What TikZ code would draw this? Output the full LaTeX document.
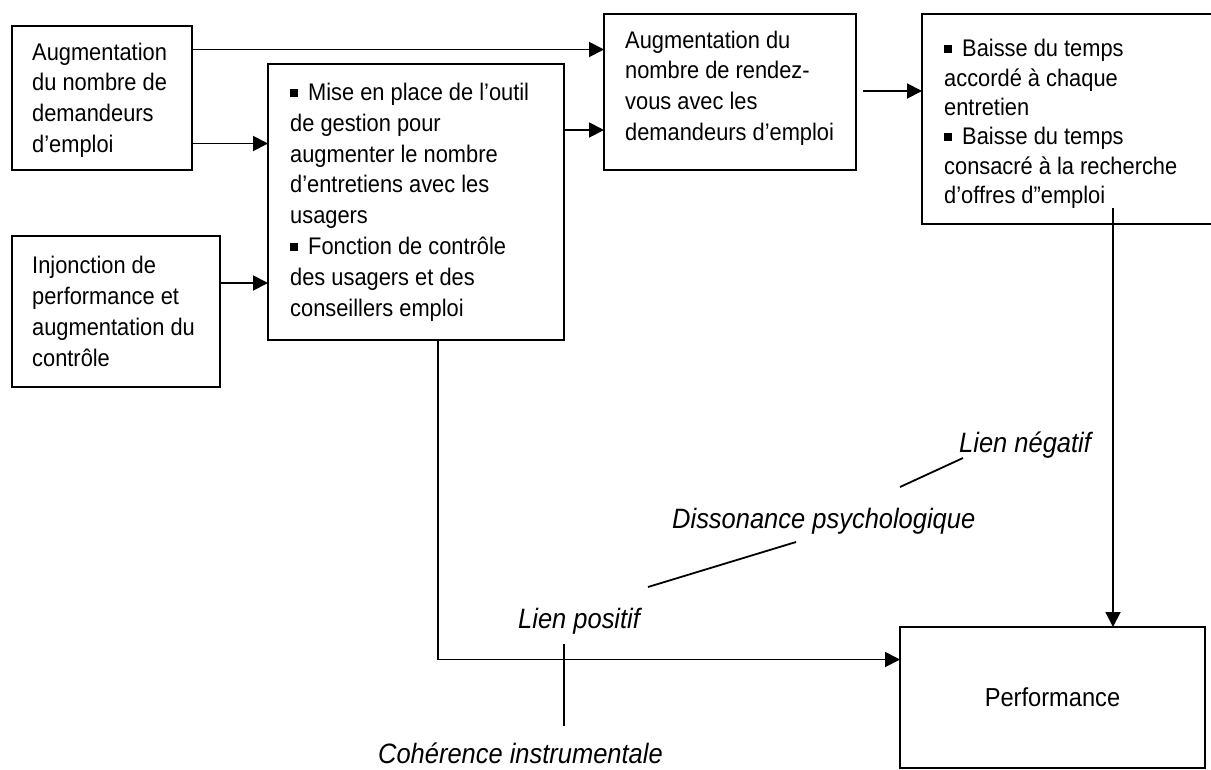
\documentclass[tikz,border=0pt]{standalone}
\usepackage{fontspec}
\setmainfont{Liberation Sans}[FakeStretch=0.91]
\usetikzlibrary{arrows.meta}

% square bullet used inside the boxes
\newcommand{\sqbul}{\rule[3.5pt]{8pt}{8pt}\hspace{10pt}}

\begin{document}
\begin{tikzpicture}[x=1pt,y=-1pt,
  box/.style={draw, line width=1.9pt, rectangle, inner sep=0pt, outer sep=0pt, anchor=north west},
  txt/.style={inner sep=0pt, align=left, anchor=west, font=\fontsize{24}{30.8}\selectfont},
  lab/.style={inner sep=0pt, font=\fontsize{28}{34}\selectfont\itshape},
  arr/.style={line width=1.9pt, -{Triangle[length=15pt,width=15pt]}},
  tick/.style={line width=1.8pt}]

\useasboundingbox (0,0) rectangle (1211,769);

% boxes
\node[box, minimum width=180pt, minimum height=144pt] (A1) at (12,26) {};
\node[txt, yshift=-2pt] (A1t) at ([xshift=20pt]A1.west)
  {Augmentation\\du nombre de\\demandeurs\\d’emploi};

\node[box, minimum width=208pt, minimum height=151pt] (A2) at (12,236) {};
\node[txt] (A2t) at ([xshift=20pt]A2.west)
  {Injonction de\\performance et\\augmentation du\\contrôle};

\node[box, minimum width=296pt, minimum height=276pt] (M) at (268,64) {};
\node[txt] (Mt) at ([xshift=22pt]M.west)
  {\sqbul Mise en place de l’outil\\de gestion pour\\augmenter le nombre\\d’entretiens avec les\\usagers\\\sqbul Fonction de contrôle\\des usagers et des\\conseillers emploi};

\node[box, minimum width=252pt, minimum height=156pt] (R) at (604,14) {};
\node[txt, yshift=4pt] (Rt) at ([xshift=21pt]R.west)
  {Augmentation du\\nombre de rendez-\\vous avec les\\demandeurs d’emploi};

\node[box, minimum width=292pt, minimum height=210pt] (B) at (922,14) {};
\node[txt, yshift=-5pt, font=\fontsize{24}{29.4}\selectfont] (Bt) at ([xshift=22pt]B.west)
  {\sqbul Baisse du temps\\accordé à chaque\\entretien\\\sqbul Baisse du temps\\consacré à la recherche\\d'offres d''emploi};

\node[box, minimum width=305pt, minimum height=141pt, font=\fontsize{26}{30}\selectfont] (P) at (900,627) {Performance};

% rows and columns of the connectors
\coordinate (rowA) at (0,49.5);
\coordinate (rowB) at (0,143.5);
\coordinate (rowC) at (0,283);
\coordinate (rowD) at (0,130);
\coordinate (rowE) at (0,91);
\coordinate (rowP) at (0,659.5);
\coordinate (colM) at (438,0);
\coordinate (bstart) at (1113,208);

% connectors
\draw[arr] (A1.east |- rowA) -- (R.west |- rowA);
\draw[arr] (A1.east |- rowB) -- (M.west |- rowB);
\draw[arr] (A2.east |- rowC) -- (M.west |- rowC);
\draw[arr] (M.east |- rowD) -- (R.west |- rowD);
\draw[arr, shorten <=7pt] (R.east |- rowE) -- (B.west |- rowE);
\draw[arr] (bstart) -- (bstart |- P.north);
\draw[arr] (M.south -| colM) |- (P.west |- rowP);

% labels
\node[lab, anchor=base west] (neg) at (959,452) {Lien négatif};
\node[lab, anchor=base west] (dis) at (672,528) {Dissonance psychologique};
\node[lab, anchor=base west] (pos) at (518,628) {Lien positif};
\node[lab, anchor=base east] (coh) at (663,763) {Cohérence instrumentale};

% label strokes
\coordinate (n1) at (900,487);
\coordinate (n2) at (963,458);
\coordinate (p1) at (648,587);
\coordinate (p2) at (796,542);
\coordinate (c1) at (564,644);
\coordinate (c2) at (564,726);
\draw[tick] (n1) -- (n2);
\draw[tick] (p1) -- (p2);
\draw[tick] (c1) -- (c2);

\end{tikzpicture}
\end{document}
